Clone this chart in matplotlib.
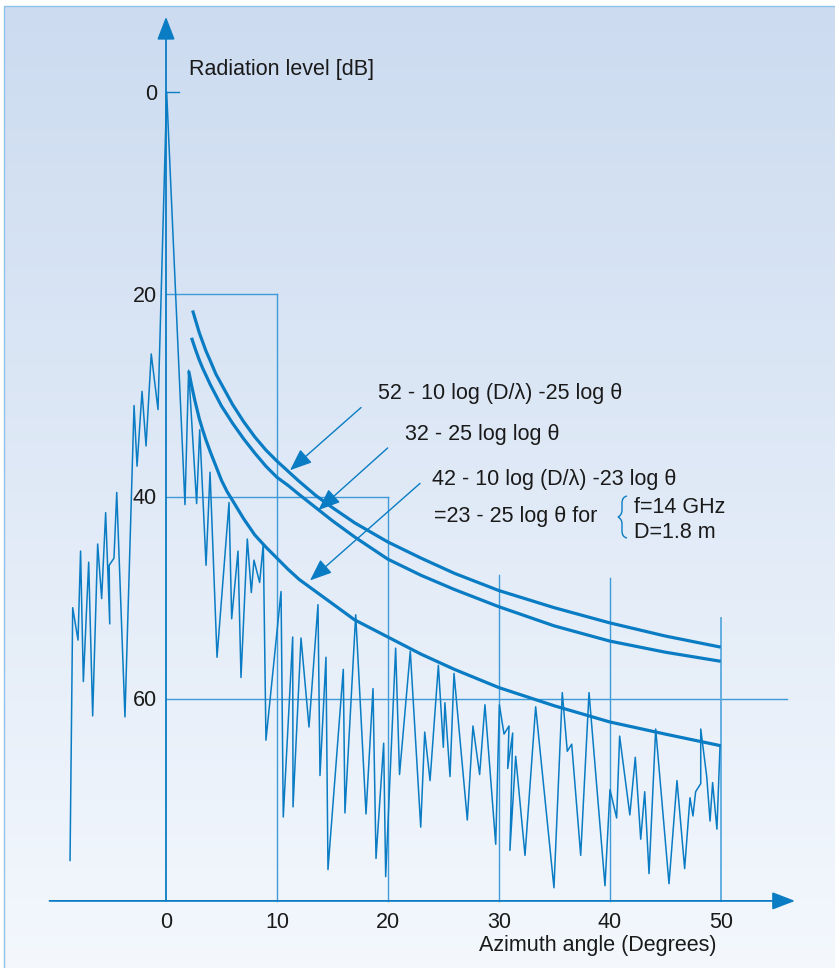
import numpy as np
import matplotlib
matplotlib.use('Agg')
import matplotlib.pyplot as plt
from matplotlib.patches import Rectangle, PathPatch
from matplotlib.path import Path

plt.rcParams['font.family'] = ['Liberation Sans', 'DejaVu Sans']

# measured radiation pattern (azimuth in degrees, level in dB below peak)
pattern_deg = [-8.65, -8.41, -7.93, -7.70, -7.45, -6.97, -6.61, -6.16, -5.80, -5.44,
               -5.07, -5.12, -4.69, -4.44, -3.70, -2.88, -2.61, -2.16, -1.80, -1.33,
               -0.72, 0.06, 1.71, 2.04, 2.76, 3.04, 3.61, 3.97, 4.60, 5.68,
               5.92, 6.49, 6.76, 7.33, 7.69, 7.93, 8.44, 8.77, 9.01, 10.37,
               10.57, 11.42, 11.45, 12.17, 12.89, 13.70, 13.88, 14.42, 14.60, 15.98,
               16.13, 17.10, 18.03, 18.66, 18.93, 19.62, 19.80, 20.70, 21.05, 22.02,
               22.96, 23.32, 23.80, 24.55, 25.00, 25.14, 25.60, 25.96, 27.16, 27.67,
               28.27, 28.75, 29.72, 30.05, 30.47, 30.92, 30.80, 31.25, 31.00, 31.52,
               32.36, 33.32, 34.97, 35.72, 36.17, 36.57, 37.38, 38.13, 39.57, 40.02,
               40.62, 40.89, 41.81, 42.30, 42.79, 43.15, 43.54, 44.14, 45.34, 46.06,
               46.75, 47.23, 47.50, 47.74, 48.20, 48.20, 48.74, 49.04, 49.27, 49.66,
               49.94]
pattern_db = [76.0, 51.0, 54.2, 45.4, 58.3, 46.5, 61.7, 44.7, 50.1, 41.6,
              52.6, 46.8, 46.1, 39.6, 61.8, 31.0, 37.0, 29.6, 35.0, 25.9,
              31.4, 0.0, 40.8, 27.5, 40.7, 33.4, 46.8, 37.6, 55.9, 40.6,
              52.1, 45.4, 57.9, 44.2, 49.5, 46.3, 48.5, 44.7, 64.1, 49.4,
              71.7, 53.9, 70.7, 54.0, 62.8, 50.7, 67.6, 55.9, 76.9, 57.1,
              71.3, 51.7, 71.4, 59.0, 75.8, 64.4, 77.6, 55.0, 67.5, 55.3,
              72.7, 63.3, 68.1, 56.7, 64.8, 60.4, 67.7, 57.5, 72.0, 62.7,
              67.5, 60.6, 74.4, 60.6, 63.5, 62.7, 66.9, 63.4, 75.0, 65.7,
              75.5, 60.8, 78.7, 59.4, 65.2, 64.5, 75.5, 59.4, 78.5, 69.0,
              71.8, 63.7, 71.5, 65.8, 73.9, 69.2, 77.3, 63.0, 78.3, 68.1,
              76.8, 69.8, 71.6, 69.2, 68.4, 63.0, 67.7, 72.1, 68.3, 72.9,
              64.65]

# envelope curves
env1_deg = [2.4, 2.7, 3, 3.3, 3.6, 4, 4.5, 5, 5.5, 6, 7, 8, 9, 10, 11, 12, 13.5, 15, 17,
            20, 23, 26, 30, 35, 40, 45, 50]
env1_db = [21.6, 22.7, 23.8, 24.7, 25.6, 26.6, 27.9, 28.9, 29.9, 30.9, 32.6, 34.1, 35.4,
           36.5, 37.5, 38.5, 39.9, 41.1, 42.6, 44.5, 46.1, 47.6, 49.3, 51.0, 52.5, 53.8, 54.9]
env2_deg = [2.3, 2.7, 3, 3.3, 3.6, 4, 4.5, 5, 5.5, 6, 7, 8, 9, 10, 11, 12, 13.5, 15, 17,
            20, 23, 26, 30, 35, 40, 45, 50]
env2_db = [24.3, 25.6, 26.5, 27.3, 28.0, 28.95, 30.0, 31.05, 31.9, 32.75, 34.3, 35.7, 37.0,
           38.1, 38.9, 39.8, 41.1, 42.4, 44.0, 46.2, 47.8, 49.2, 50.9, 52.8, 54.3, 55.4, 56.3]
env3_deg = [2.05, 2.3, 2.6, 3, 3.3, 3.6, 4, 4.5, 5, 5.5, 6, 7, 8, 9, 10, 11, 12, 13.5, 15,
            17, 20, 23, 26, 30, 35, 40, 45, 50]
env3_db = [27.6, 29.0, 30.5, 32.3, 33.4, 34.4, 35.6, 37.0, 38.4, 39.5, 40.4, 42.2, 43.8,
           45.0, 46.1, 47.2, 48.2, 49.4, 50.6, 52.2, 53.9, 55.6, 57.1, 58.9, 60.7, 62.3,
           63.5, 64.65]

x_ticks = [0, 10, 20, 30, 40, 50]
y_ticks = [0, 20, 40, 60]

blue = '#0a7cc4'
grid_blue = '#3f9bd8'
txt = '#1a1a1a'

fig = plt.figure(figsize=(8.35, 9.68), dpi=100)
fig.patch.set_facecolor('white')
ax = fig.add_axes([0, 0, 1, 1])
ax.axis('off')


def px(x, y):
    # pixel position -> data coordinates
    return (x - 166) / 11.094, (y - 92.1) / 10.11


# background gradient and frame
x0, y0 = px(4, 6)
x1, y1 = px(840, 975)
grad = np.linspace(0, 1, 256)[:, None]
top = np.array([0.800, 0.860, 0.942])
bot = np.array([0.957, 0.973, 0.992])
img = top + (bot - top) * grad[..., None]
img = np.repeat(img, 2, axis=1)
ax.imshow(img, extent=[x0, x1, y1, y0], aspect='auto', zorder=0)
ax.add_patch(Rectangle((x0, y0), x1 - x0, y1 - y0, fill=False,
                       edgecolor='#8fc2ea', lw=1.0, zorder=1))

ax.set_xlim(-166 / 11.094, (835 - 166) / 11.094)
ax.set_ylim((968 - 92.1) / 10.11, -92.1 / 10.11)

# reference lines
lw_g = 1.0
ax.plot([0, 10], [20, 20], color=grid_blue, lw=lw_g, zorder=2)
ax.plot([0, 20], [40, 40], color=grid_blue, lw=lw_g, zorder=2)
ax.plot([0, 56], [60, 60], color=grid_blue, lw=lw_g, zorder=2)
ax.plot([10, 10], [20, 80], color=grid_blue, lw=lw_g, zorder=2)
ax.plot([20, 20], [40, 80], color=grid_blue, lw=lw_g, zorder=2)
ax.plot([30, 30], [47.8, 80], color=grid_blue, lw=lw_g, zorder=2)
ax.plot([40, 40], [48.1, 80], color=grid_blue, lw=lw_g, zorder=2)
ax.plot([50, 50], [52.0, 80], color='#5aa9de', lw=1.3, zorder=2)
ax.plot([0, 1.2], [0, 0], color=blue, lw=1.0, zorder=2)

# axes with arrows
head = '-|>,head_length=0.7,head_width=0.27'
ax.annotate('', xy=(0, -7.45), xytext=(0, 80), zorder=3,
            arrowprops=dict(arrowstyle=head, mutation_scale=20, color=blue,
                            lw=1.3, shrinkA=0, shrinkB=0))
ax.annotate('', xy=(56.7, 80), xytext=(-10.5, 80), zorder=3,
            arrowprops=dict(arrowstyle=head, mutation_scale=20, color=blue,
                            lw=1.3, shrinkA=0, shrinkB=0))

# pattern and envelopes
ax.plot(pattern_deg, pattern_db, color=blue, lw=1.1, zorder=4)
for d, v in [(env1_deg, env1_db), (env2_deg, env2_db), (env3_deg, env3_db)]:
    ax.plot(d, v, color=blue, lw=2.3, zorder=5, solid_capstyle='butt',
            solid_joinstyle='round')

fs = 15.5
for t in x_ticks:
    ax.text(t, 82.1, str(t), ha='center', va='center', fontsize=fs, color=txt)
for t in y_ticks:
    ax.text(-0.81, t + 0.2, str(t), ha='right', va='center', fontsize=fs, color=txt)

ax.text(2.07, -2.28, 'Radiation level [dB]', ha='left', va='center', fontsize=fs, color=txt)
ax.text(28.2, 84.4, 'Azimuth angle (Degrees)', ha='left', va='center', fontsize=fs, color=txt)

# formula labels with pointer arrows
ahead = '-|>,head_length=0.75,head_width=0.3'
for tip, tail in [((11.18, 37.4), (17.58, 31.2)),
                  ((13.73, 41.35), (19.98, 35.2)),
                  ((12.98, 48.3), (22.9, 38.7))]:
    ax.annotate('', xy=tip, xytext=tail, zorder=6,
                arrowprops=dict(arrowstyle=ahead, mutation_scale=18, color=blue,
                                lw=1.0, shrinkA=0, shrinkB=0))

ax.text(19.11, 29.86, '52 - 10 log (D/\u03bb) -25 log \u03b8', ha='left', va='center',
        fontsize=fs, color=txt)
ax.text(21.54, 33.82, '32 - 25 log log \u03b8', ha='left', va='center',
        fontsize=fs, color=txt)
ax.text(23.95, 38.27, '42 - 10 log (D/\u03bb) -23 log \u03b8', ha='left', va='center',
        fontsize=fs, color=txt)
ax.text(24.18, 42.0, '=23 - 25 log \u03b8 for', ha='left', va='center',
        fontsize=fs, color=txt)
ax.text(42.19, 41.07, 'f=14 GHz', ha='left', va='center', fontsize=fs, color=txt)
ax.text(42.19, 43.58, 'D=1.8 m', ha='left', va='center', fontsize=fs, color=txt)

# curly brace
bp = [px(627, 496), px(622, 497), px(622, 503), px(622, 510), px(622, 515), px(618, 517),
      px(622, 519), px(622, 524), px(622, 531), px(622, 537), px(627, 538)]
codes = [Path.MOVETO, Path.CURVE3, Path.CURVE3, Path.LINETO, Path.CURVE3, Path.CURVE3,
         Path.CURVE3, Path.CURVE3, Path.LINETO, Path.CURVE3, Path.CURVE3]
ax.add_patch(PathPatch(Path(bp, codes), fill=False, edgecolor=blue, lw=1.0, zorder=6))

fig.savefig('out.png', dpi=100)
